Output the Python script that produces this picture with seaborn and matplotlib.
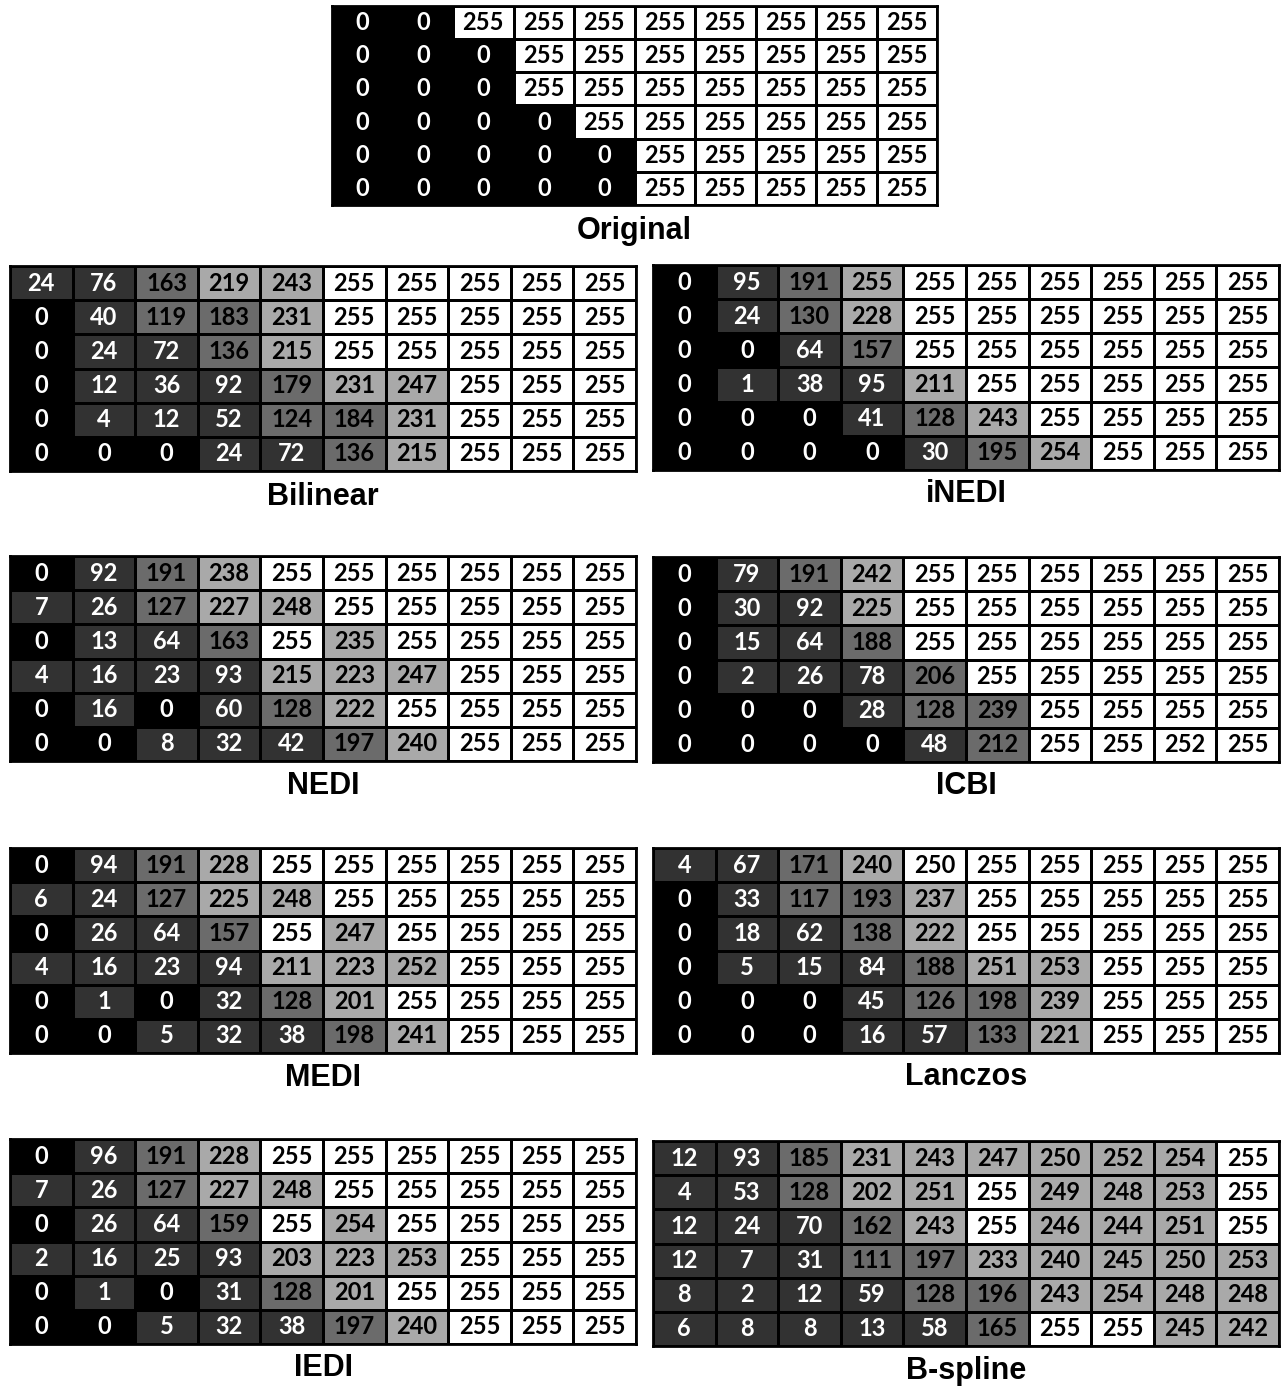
import numpy as np
import matplotlib
matplotlib.use("Agg")
import matplotlib.pyplot as plt
from matplotlib.colors import ListedColormap
import seaborn as sns

# pixel values, 6 rows x 10 columns each
original = [
    [0, 0, 255, 255, 255, 255, 255, 255, 255, 255],
    [0, 0, 0, 255, 255, 255, 255, 255, 255, 255],
    [0, 0, 0, 255, 255, 255, 255, 255, 255, 255],
    [0, 0, 0, 0, 255, 255, 255, 255, 255, 255],
    [0, 0, 0, 0, 0, 255, 255, 255, 255, 255],
    [0, 0, 0, 0, 0, 255, 255, 255, 255, 255],
]
bilinear = [
    [24, 76, 163, 219, 243, 255, 255, 255, 255, 255],
    [0, 40, 119, 183, 231, 255, 255, 255, 255, 255],
    [0, 24, 72, 136, 215, 255, 255, 255, 255, 255],
    [0, 12, 36, 92, 179, 231, 247, 255, 255, 255],
    [0, 4, 12, 52, 124, 184, 231, 255, 255, 255],
    [0, 0, 0, 24, 72, 136, 215, 255, 255, 255],
]
inedi = [
    [0, 95, 191, 255, 255, 255, 255, 255, 255, 255],
    [0, 24, 130, 228, 255, 255, 255, 255, 255, 255],
    [0, 0, 64, 157, 255, 255, 255, 255, 255, 255],
    [0, 1, 38, 95, 211, 255, 255, 255, 255, 255],
    [0, 0, 0, 41, 128, 243, 255, 255, 255, 255],
    [0, 0, 0, 0, 30, 195, 254, 255, 255, 255],
]
nedi = [
    [0, 92, 191, 238, 255, 255, 255, 255, 255, 255],
    [7, 26, 127, 227, 248, 255, 255, 255, 255, 255],
    [0, 13, 64, 163, 255, 235, 255, 255, 255, 255],
    [4, 16, 23, 93, 215, 223, 247, 255, 255, 255],
    [0, 16, 0, 60, 128, 222, 255, 255, 255, 255],
    [0, 0, 8, 32, 42, 197, 240, 255, 255, 255],
]
icbi = [
    [0, 79, 191, 242, 255, 255, 255, 255, 255, 255],
    [0, 30, 92, 225, 255, 255, 255, 255, 255, 255],
    [0, 15, 64, 188, 255, 255, 255, 255, 255, 255],
    [0, 2, 26, 78, 206, 255, 255, 255, 255, 255],
    [0, 0, 0, 28, 128, 239, 255, 255, 255, 255],
    [0, 0, 0, 0, 48, 212, 255, 255, 252, 255],
]
medi = [
    [0, 94, 191, 228, 255, 255, 255, 255, 255, 255],
    [6, 24, 127, 225, 248, 255, 255, 255, 255, 255],
    [0, 26, 64, 157, 255, 247, 255, 255, 255, 255],
    [4, 16, 23, 94, 211, 223, 252, 255, 255, 255],
    [0, 1, 0, 32, 128, 201, 255, 255, 255, 255],
    [0, 0, 5, 32, 38, 198, 241, 255, 255, 255],
]
lanczos = [
    [4, 67, 171, 240, 250, 255, 255, 255, 255, 255],
    [0, 33, 117, 193, 237, 255, 255, 255, 255, 255],
    [0, 18, 62, 138, 222, 255, 255, 255, 255, 255],
    [0, 5, 15, 84, 188, 251, 253, 255, 255, 255],
    [0, 0, 0, 45, 126, 198, 239, 255, 255, 255],
    [0, 0, 0, 16, 57, 133, 221, 255, 255, 255],
]
iedi = [
    [0, 96, 191, 228, 255, 255, 255, 255, 255, 255],
    [7, 26, 127, 227, 248, 255, 255, 255, 255, 255],
    [0, 26, 64, 159, 255, 254, 255, 255, 255, 255],
    [2, 16, 25, 93, 203, 223, 253, 255, 255, 255],
    [0, 1, 0, 31, 128, 201, 255, 255, 255, 255],
    [0, 0, 5, 32, 38, 197, 240, 255, 255, 255],
]
bspline = [
    [12, 93, 185, 231, 243, 247, 250, 252, 254, 255],
    [4, 53, 128, 202, 251, 255, 249, 248, 253, 255],
    [12, 24, 70, 162, 243, 255, 246, 244, 251, 255],
    [12, 7, 31, 111, 197, 233, 240, 245, 250, 253],
    [8, 2, 12, 59, 128, 196, 243, 254, 248, 248],
    [6, 8, 8, 13, 58, 165, 255, 255, 245, 242],
]

# cells whose grey level in the figure differs from the usual banding (row, col, level)
shade_fix = {
    "iNEDI": [(0, 3, 3)],
    "ICBI": [(3, 4, 2), (4, 5, 2), (5, 5, 2), (5, 8, 4)],
    "Lanczos": [(0, 4, 4)],
}

grays = ["#000000", "#323232", "#6b6b6b", "#a9a9a9", "#ffffff"]
cmap = ListedColormap(grays)

W, H = 1282, 1389
fig = plt.figure(figsize=(W / 100, H / 100), dpi=100)
plt.rcParams['font.family'] = ['Lato', 'DejaVu Sans']


def shade(vals, name):
    v = np.array(vals)
    lev = np.digitize(v, [1, 101, 200, 255])
    for r, c, l in shade_fix.get(name, []):
        lev[r, c] = l
    return lev


def panel(vals, name, x, y, w, h, ty):
    ax = fig.add_axes([x / W, 1 - (y + h) / H, w / W, h / H])
    lev = shade(vals, name)
    sns.heatmap(lev, annot=np.array(vals), fmt="d", cmap=cmap, vmin=-0.5, vmax=4.5,
                cbar=False, linewidths=1.8, linecolor="black",
                xticklabels=False, yticklabels=False, ax=ax,
                annot_kws={"fontsize": 17, "fontweight": "bold", "family": "Lato"})
    flat = lev.ravel()
    for t, l in zip(ax.texts, flat):
        t.set_color("white" if l <= 1 else "black")
    for s in ax.spines.values():
        s.set_visible(True)
        s.set_linewidth(2)
        s.set_color("black")
    fig.text((x + w / 2) / W, 1 - ty / H, name, ha="center", va="center",
             fontsize=22, fontweight="bold", family="Liberation Sans")


panel(original, "Original", 332, 6, 605, 199, 231)
lx, rx, pw, ph = 10, 653, 626, 205
panel(bilinear, "Bilinear", lx, 266, pw, ph, 497)
panel(inedi, "iNEDI", rx, 265, pw, ph, 494)
panel(nedi, "NEDI", lx, 556, pw, ph, 786)
panel(icbi, "ICBI", rx, 557, pw, ph, 786)
panel(medi, "MEDI", lx, 848, pw, ph, 1078)
panel(lanczos, "Lanczos", rx, 848, pw, ph, 1077)
panel(iedi, "IEDI", lx, 1139, pw, ph, 1368)
panel(bspline, "B-spline", rx, 1141, pw, ph, 1371)

fig.savefig("out.png", dpi=100)
